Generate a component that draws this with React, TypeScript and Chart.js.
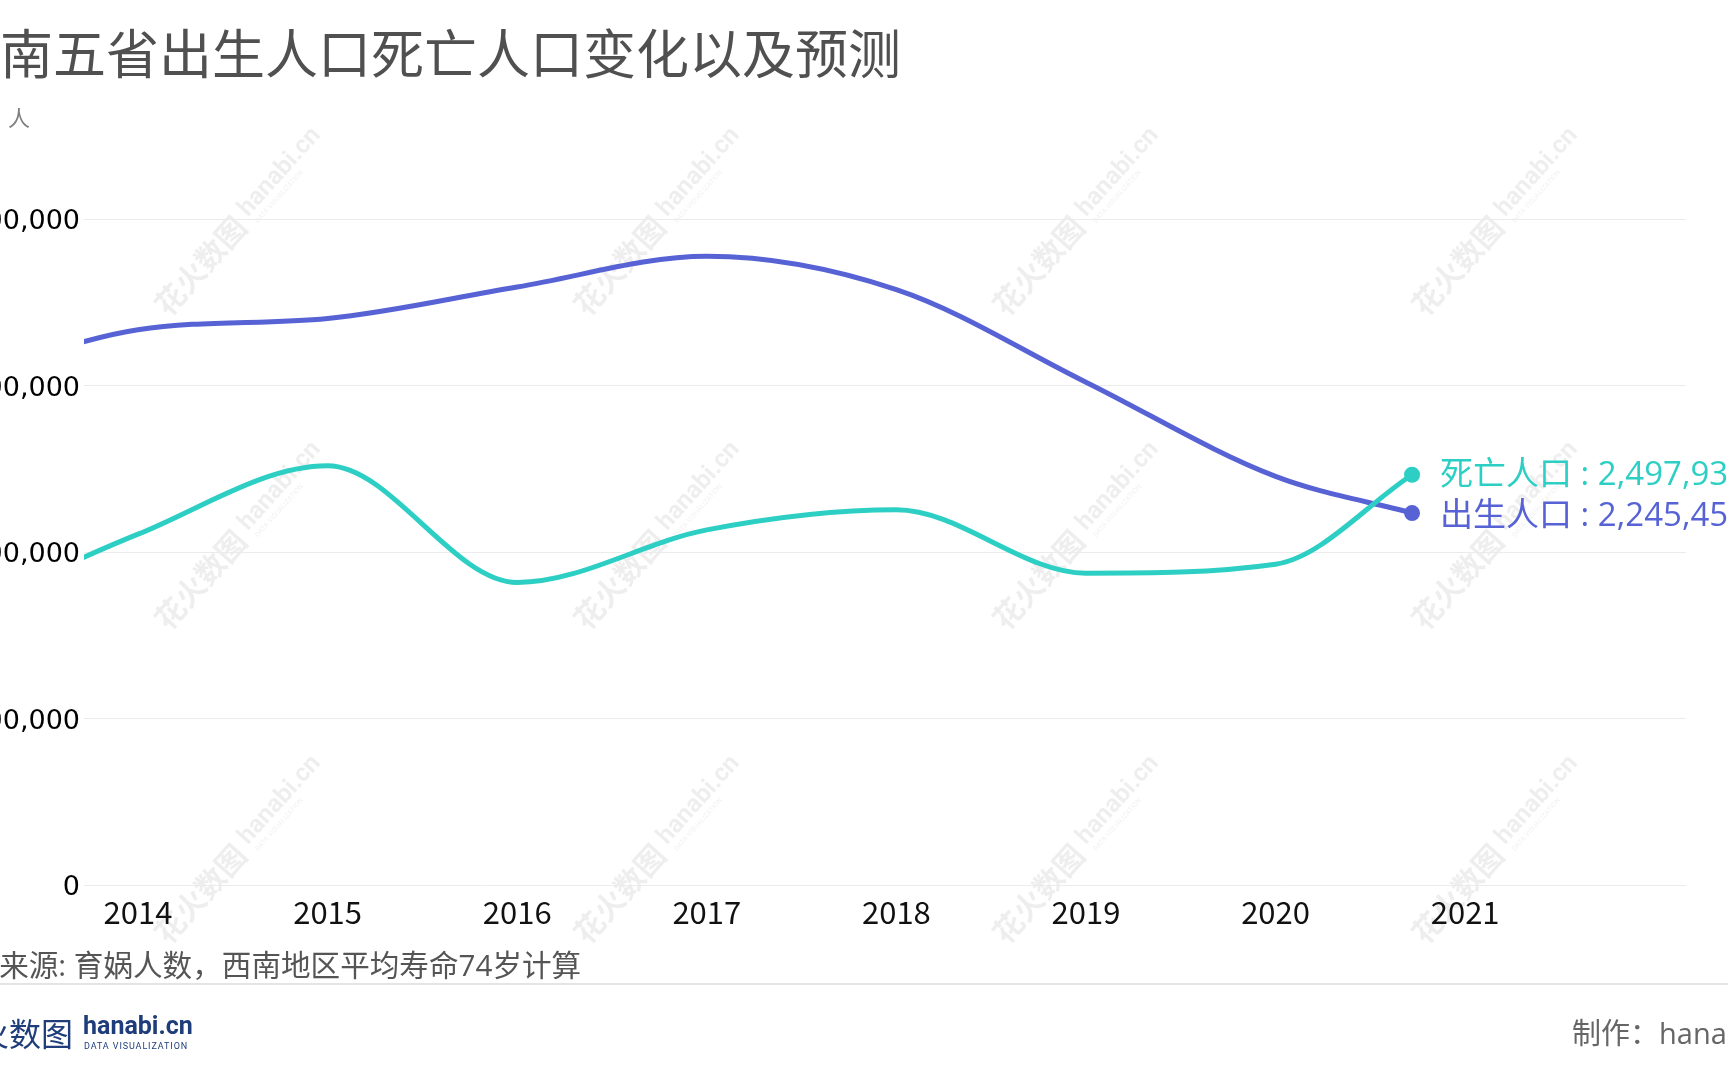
import React, { useEffect, useRef } from "react";
import { Chart, registerables } from "chart.js";

Chart.register(...registerables);

// ---------- data ----------
const titleText = "西南五省出生人口死亡人口变化以及预测";
const unitText = "单位：人";
const sourceText = "数据来源: 育娲人数，西南地区平均寿命74岁计算";
const creditText = "制作：hanabi.cn";

const seriesNames = ["死亡人口", "出生人口"];
// time positions of the points (last one is the current, partly-animated frame toward 2021)
const years = [2013, 2014, 2015, 2016, 2017, 2018, 2019, 2020, 2020.72];
const deaths = [1600000, 2107000, 2518000, 1817000, 2133000, 2254000, 1873000, 1927000, 2464000];
const births = [3000000, 3335000, 3403000, 3592000, 3776000, 3576000, 3020000, 2454000, 2234000];
// values shown by the end-of-line counters
const endLabelValues = [2497930, 2245450];
const yearTicks = [2014, 2015, 2016, 2017, 2018, 2019, 2020, 2021];
const yTicks = [0, 1000000, 2000000, 3000000, 4000000];
const xMin = 2013.715;
const xMax = 2022.165;

const TEAL = "#2dcfc4";
const BLUE = "#5763d5";
const CJK = '"Noto Sans CJK SC", "Noto Sans", sans-serif';
const MIX = '"Open Sans", "Noto Sans CJK SC", sans-serif';

const CANVAS_SHIFT = 56;
const CANVAS_W = 1728 + CANVAS_SHIFT;
const CANVAS_H = 1080;

const watermarkPlugin = {
  id: "watermark",
  beforeDraw(chart: any) {
    const ctx = chart.ctx as CanvasRenderingContext2D;
    ctx.save();
    const cols = [243, 662, 1081, 1500];
    const rows = [218, 532, 846];
    for (const cx of cols) {
      for (const cy of rows) {
        ctx.save();
        ctx.translate(cx + CANVAS_SHIFT, cy);
        ctx.rotate(-0.84);
        ctx.fillStyle = "rgba(0,0,0,0.065)";
        ctx.textBaseline = "middle";
        ctx.textAlign = "right";
        ctx.font = `600 30px ${CJK}`;
        ctx.fillText("花火数图", -4, 0);
        ctx.textAlign = "left";
        ctx.font = "bold 25px Roboto, sans-serif";
        ctx.fillText("hanabi.cn", 4, -3);
        ctx.font = "7px Roboto, sans-serif";
        ctx.fillText("DATA VISUALIZATION", 6, 13);
        ctx.restore();
      }
    }
    ctx.restore();
  },
};

const endLabelPlugin = {
  id: "endLabels",
  afterDatasetsDraw(chart: any) {
    const ctx = chart.ctx as CanvasRenderingContext2D;
    const items = chart.data.datasets
      .map((ds: any, i: number) => {
        const meta = chart.getDatasetMeta(i);
        const pt = meta.data[meta.data.length - 1];
        const v = endLabelValues[i];
        return {
          x: pt.x,
          y: pt.y,
          color: ds.borderColor,
          text: `${ds.label} : ${v.toLocaleString("en-US")}`,
        };
      })
      .sort((a: any, b: any) => a.y - b.y);
    const gap = 41;
    for (let i = 1; i < items.length; i++) {
      const d = items[i].y - items[i - 1].y;
      if (d < gap) {
        const s = (gap - d) / 2;
        items[i - 1].y -= s;
        items[i].y += s;
      }
    }
    ctx.save();
    ctx.font = `33px ${MIX}`;
    ctx.textBaseline = "middle";
    ctx.textAlign = "left";
    for (const it of items) {
      ctx.fillStyle = it.color;
      ctx.fillText(it.text, it.x + 28, it.y + 2);
    }
    ctx.restore();
  },
};

export default function App() {
  const canvasRef = useRef<HTMLCanvasElement>(null);

  useEffect(() => {
    const canvas = canvasRef.current;
    if (!canvas) return;
    const lastIdx = years.length - 1;
    const mk = (name: string, vals: number[], color: string) => ({
      label: name,
      data: years.map((x, i) => ({ x, y: vals[i] })),
      borderColor: color,
      backgroundColor: color,
      borderWidth: 5,
      cubicInterpolationMode: "monotone" as const,
      pointRadius: (c: any) => (c.dataIndex === lastIdx ? 8 : 0),
      pointHoverRadius: 0,
      pointBorderWidth: 0,
      fill: false,
    });
    const chart = new Chart(canvas, {
      type: "line",
      data: {
        datasets: [mk(seriesNames[0], deaths, TEAL), mk(seriesNames[1], births, BLUE)],
      },
      options: {
        responsive: false,
        animation: false,
        devicePixelRatio: 1,
        layout: { padding: { left: 0, right: 42, top: 219, bottom: 135 } },
        elements: { line: { capBezierPoints: false } },
        plugins: { legend: { display: false }, tooltip: { enabled: false } },
        scales: {
          x: {
            type: "linear",
            min: xMin,
            max: xMax,
            grid: { display: false },
            border: { display: false },
            afterBuildTicks: (scale: any) => {
              scale.ticks = yearTicks.map((v) => ({ value: v }));
            },
            afterFit: (scale: any) => {
              scale.height = 60;
            },
            ticks: {
              autoSkip: false,
              maxRotation: 0,
              padding: 1,
              color: "#111",
              font: { family: CJK, size: 31 },
              callback: (v: any) => String(v),
            },
          },
          y: {
            min: yTicks[0],
            max: yTicks[yTicks.length - 1],
            afterBuildTicks: (scale: any) => {
              scale.ticks = yTicks.map((v) => ({ value: v }));
            },
            afterFit: (scale: any) => {
              scale.width = 140;
            },
            grid: { color: "#ebebeb", lineWidth: 1, drawTicks: false },
            border: { display: false },
            ticks: {
              padding: 4,
              labelOffset: 3,
              color: "#000",
              font: { family: '"DejaVu Sans", sans-serif', size: 27 },
              callback: (v: any) => Number(v).toLocaleString("en-US"),
            },
          },
        },
      },
      plugins: [watermarkPlugin, endLabelPlugin],
    } as any);
    return () => chart.destroy();
  }, []);

  const abs = (s: React.CSSProperties): React.CSSProperties => ({
    position: "absolute",
    whiteSpace: "nowrap",
    lineHeight: 1,
    margin: 0,
    ...s,
  });

  return (
    <div
      style={{
        position: "fixed",
        left: 0,
        top: 0,
        width: 1728,
        height: 1080,
        overflow: "hidden",
        background: "#fff",
        fontFamily: CJK,
      }}
    >
      <canvas
        ref={canvasRef}
        width={CANVAS_W}
        height={CANVAS_H}
        style={{ position: "absolute", left: -CANVAS_SHIFT, top: 0, width: CANVAS_W, height: CANVAS_H }}
      />
      <div style={abs({ left: -53, top: 25, fontSize: 53, color: "#505050" })}>{titleText}</div>
      <div style={abs({ left: -58, top: 105, fontSize: 22, color: "#808080" })}>{unitText}</div>
      <div style={abs({ left: -60, top: 950, fontSize: 29.6, color: "#555", fontFamily: MIX })}>{sourceText}</div>
      <div style={abs({ left: 0, top: 983, width: 1728, height: 2, background: "#e4e4e4" })} />
      <div style={abs({ left: -55, top: 1016, fontSize: 32, color: "#1f3d7a" })}>花火数图</div>
      <div
        style={abs({
          left: 83,
          top: 1013,
          fontSize: 25,
          fontWeight: 700,
          color: "#1f3d7a",
          fontFamily: "Roboto, sans-serif",
        })}
      >
        hanabi.cn
      </div>
      <div
        style={abs({
          left: 84,
          top: 1042,
          fontSize: 9,
          letterSpacing: 0.9,
          color: "#1f3d7a",
          fontFamily: "Roboto, sans-serif",
        })}
      >
        DATA VISUALIZATION
      </div>
      <div style={abs({ left: 1572, top: 1018, fontSize: 29, color: "#666", fontFamily: MIX })}>{creditText}</div>
    </div>
  );
}
